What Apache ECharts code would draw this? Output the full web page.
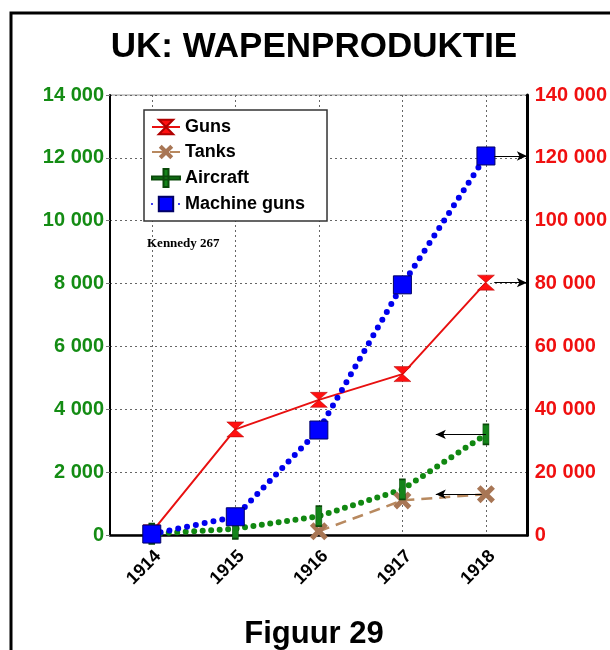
<!DOCTYPE html>
<html>
<head>
<meta charset="utf-8">
<script src="https://cdn.jsdelivr.net/npm/echarts@6/dist/echarts.min.js"></script>
<style>
    html, body { margin: 0; padding: 0; background: #fff; }
    #chart { width: 610px; height: 650px; }
</style>
</head>
<body>
<div id="chart"></div>
<script>
// jaren (x-as)
var years = ['1914', '1915', '1916', '1917', '1918'];
// rechter as (0 - 140 000)
var guns = [900, 33600, 43000, 51200, 80300];
var machineGuns = [300, 5800, 33400, 79600, 120600];
// linker as (0 - 14 000)
var tanks = ['-', '-', 120, 1100, 1300];
var aircraft = [40, 200, 600, 1450, 3200];
// namen in de legenda
var seriesNames = ['Guns', 'Tanks', 'Aircraft', 'Machine guns'];

var FONT = '"Liberation Sans", Arial, sans-serif';
var GRID_LINE = { color: '#666', width: 1, type: [2, 3] };

// 12000 -> '12 000'
function spaced(v) {
    return String(v).replace(/\B(?=(\d{3})+(?!\d))/g, ' ');
}

var myChart = echarts.init(document.getElementById('chart'));

var option = {
    animation: false,
    textStyle: { fontFamily: FONT },
    graphic: [
        {   // kader
            type: 'rect', silent: true, z: -10,
            shape: { x: 11, y: 13, width: 640, height: 680 },
            style: { fill: 'none', stroke: '#000', lineWidth: 3 }
        },
        {
            type: 'text', x: 314, y: 47,
            style: { text: 'UK: WAPENPRODUKTIE', font: 'bold 35px ' + FONT, fill: '#000', align: 'center', verticalAlign: 'middle' }
        },
        {
            type: 'text', x: 147, y: 244, z: 10,
            style: { text: 'Kennedy 267', font: 'bold 13px "Liberation Serif", serif', fill: '#000', verticalAlign: 'middle' }
        },
        {
            type: 'text', x: 314, y: 634,
            style: { text: 'Figuur 29', font: 'bold 31px ' + FONT, fill: '#000', align: 'center', verticalAlign: 'middle' }
        }
    ],
    legend: {
        data: [
            seriesNames[0],
            seriesNames[1],
            { name: seriesNames[2], icon: 'path://M0,7.5H28V10.5H0ZM11.5,0H16.5V18H11.5Z' },
            seriesNames[3]
        ],
        orient: 'vertical',
        left: 144,
        top: 110,
        backgroundColor: '#fff',
        borderColor: '#333',
        borderWidth: 1.5,
        padding: [8, 22, 8, 7],
        itemGap: 7,
        itemWidth: 28,
        itemHeight: 18,
        textStyle: { fontSize: 18, fontWeight: 'bold', color: '#000' }
    },
    grid: {
        left: 110, right: 80, top: 95, bottom: 115,
        show: true, borderColor: '#999', borderWidth: 1
    },
    xAxis: [
        {
            type: 'category',
            data: years,
            boundaryGap: true,
            axisLine: { onZero: false, lineStyle: { color: '#000', width: 2.5 } },
            axisTick: { show: false },
            axisLabel: { rotate: 45, fontSize: 18, fontWeight: 'bold', color: '#000', margin: 12, verticalAlign: 'top' },
            splitLine: { show: true, alignWithLabel: true, lineStyle: GRID_LINE }
        },
        {   // onzichtbare hulpas voor de pijltjes
            type: 'value', min: -0.5, max: 4.5, show: false
        }
    ],
    yAxis: [
        {
            type: 'value', min: 0, max: 14000, interval: 2000, position: 'left',
            axisLine: { show: true, onZero: false, lineStyle: { color: '#000', width: 2 } },
            axisTick: { show: true, length: 4, lineStyle: { color: '#777' } },
            axisLabel: { color: '#148c14', fontSize: 20, fontWeight: 'bold', margin: 6, formatter: spaced },
            splitLine: { show: true, lineStyle: GRID_LINE }
        },
        {
            type: 'value', min: 0, max: 140000, interval: 20000, position: 'right',
            axisLine: { show: true, onZero: false, lineStyle: { color: '#000', width: 3 } },
            axisTick: { show: false },
            axisLabel: { color: '#f01010', fontSize: 20, fontWeight: 'bold', margin: 7, formatter: spaced },
            splitLine: { show: false }
        }
    ],
    series: [
        {
            name: 'Guns', type: 'line', yAxisIndex: 1, data: guns,
            symbol: 'path://M0,0L10,0L5,5ZM5,5L10,10L0,10Z',
            symbolSize: [17, 15],
            itemStyle: { color: '#ff1010', borderColor: '#b00000', borderWidth: 0.5 },
            lineStyle: { color: '#e81010', width: 2 }
        },
        {
            name: 'Tanks', type: 'line', yAxisIndex: 0, data: tanks,
            symbol: 'path://M2,0L5,3L8,0L10,2L7,5L10,8L8,10L5,7L2,10L0,8L3,5L0,2Z',
            symbolSize: 18,
            itemStyle: { color: '#a87655' },
            lineStyle: { color: '#b8895f', width: 2.5, type: [11, 7] }
        },
        {
            name: 'Aircraft', type: 'line', yAxisIndex: 0, data: aircraft,
            symbol: 'rect',
            symbolSize: [6, 20],
            itemStyle: { color: '#14841a', borderColor: '#0a4a0a', borderWidth: 1 },
            lineStyle: { color: '#118811', width: 6, type: [0, 8.5], cap: 'round' }
        },
        {
            name: 'Machine guns', type: 'line', yAxisIndex: 1, data: machineGuns,
            symbol: 'rect',
            symbolSize: 18,
            itemStyle: { color: '#0000ff', borderColor: '#000066', borderWidth: 1 },
            lineStyle: { color: '#0000ee', width: 6, type: [0, 9], cap: 'round' }
        },
        {   // pijltjes naar de rechter as
            type: 'line', xAxisIndex: 1, yAxisIndex: 1, data: [], silent: true,
            markLine: {
                silent: true, symbol: ['none', 'arrow'], symbolSize: [7, 10],
                label: { show: false },
                lineStyle: { color: '#000', width: 1, type: 'solid' },
                data: [
                    [{ coord: [4.1, 120600] }, { coord: [4.49, 120600] }],
                    [{ coord: [4.1, 80300] }, { coord: [4.49, 80300] }]
                ]
            }
        },
        {   // pijltjes naar de linker as
            type: 'line', xAxisIndex: 1, yAxisIndex: 0, data: [], silent: true,
            markLine: {
                silent: true, symbol: ['none', 'arrow'], symbolSize: [7, 10],
                label: { show: false },
                lineStyle: { color: '#000', width: 1, type: 'solid' },
                data: [
                    [{ coord: [4.0, 3200] }, { coord: [3.4, 3200] }],
                    [{ coord: [3.95, 1300] }, { coord: [3.4, 1300] }]
                ]
            }
        }
    ]
};

myChart.setOption(option);
</script>
</body>
</html>
